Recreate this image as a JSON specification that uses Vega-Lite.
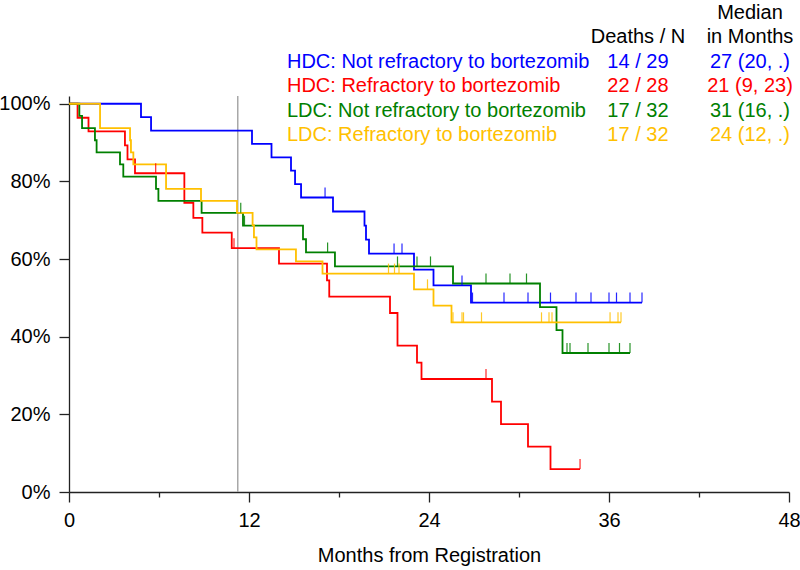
{
  "$schema": "https://vega.github.io/schema/vega-lite/v6.json",
  "width": 720,
  "height": 396,
  "autosize": {"type": "none"},
  "padding": {"left": 69, "top": 96, "right": 11, "bottom": 78},
  "background": "white",
  "config": {
    "view": {"stroke": null},
    "font": "Liberation Sans",
    "text": {"font": "Liberation Sans", "fontSize": 20},
    "axis": {
      "grid": false,
      "domainColor": "#222222",
      "domainWidth": 1.3,
      "tickColor": "#222222",
      "tickWidth": 1.3,
      "labelColor": "#000000",
      "labelFont": "Liberation Sans",
      "labelFontSize": 20,
      "labelFlush": false,
      "titleFont": "Liberation Sans",
      "titleFontSize": 20,
      "titleFontWeight": "normal",
      "titleColor": "#000000"
    }
  },
  "datasets": {
    "surv": [
      {"grp": "HDC: Not refractory to bortezomib", "t": 0, "s": 100},
      {"grp": "HDC: Not refractory to bortezomib", "t": 4.8, "s": 96.55},
      {"grp": "HDC: Not refractory to bortezomib", "t": 5.47, "s": 93.1},
      {"grp": "HDC: Not refractory to bortezomib", "t": 12.2, "s": 89.66},
      {"grp": "HDC: Not refractory to bortezomib", "t": 13.5, "s": 86.2},
      {"grp": "HDC: Not refractory to bortezomib", "t": 14.8, "s": 82.76},
      {"grp": "HDC: Not refractory to bortezomib", "t": 15.07, "s": 79.3},
      {"grp": "HDC: Not refractory to bortezomib", "t": 15.47, "s": 75.86},
      {"grp": "HDC: Not refractory to bortezomib", "t": 17.6, "s": 72.25},
      {"grp": "HDC: Not refractory to bortezomib", "t": 19.7, "s": 68.6},
      {"grp": "HDC: Not refractory to bortezomib", "t": 19.8, "s": 65.0},
      {"grp": "HDC: Not refractory to bortezomib", "t": 20.0, "s": 61.4},
      {"grp": "HDC: Not refractory to bortezomib", "t": 23.0, "s": 57.3},
      {"grp": "HDC: Not refractory to bortezomib", "t": 24.3, "s": 53.2},
      {"grp": "HDC: Not refractory to bortezomib", "t": 26.8, "s": 48.8},
      {"grp": "HDC: Not refractory to bortezomib", "t": 38.2, "s": 48.8},

      {"grp": "HDC: Refractory to bortezomib", "t": 0, "s": 100},
      {"grp": "HDC: Refractory to bortezomib", "t": 0.57, "s": 96.4},
      {"grp": "HDC: Refractory to bortezomib", "t": 1.3, "s": 92.9},
      {"grp": "HDC: Refractory to bortezomib", "t": 3.73, "s": 89.3},
      {"grp": "HDC: Refractory to bortezomib", "t": 3.9, "s": 85.7},
      {"grp": "HDC: Refractory to bortezomib", "t": 4.4, "s": 82.1},
      {"grp": "HDC: Refractory to bortezomib", "t": 7.69, "s": 74.5},
      {"grp": "HDC: Refractory to bortezomib", "t": 8.29, "s": 70.6},
      {"grp": "HDC: Refractory to bortezomib", "t": 8.89, "s": 66.8},
      {"grp": "HDC: Refractory to bortezomib", "t": 10.85, "s": 62.8},
      {"grp": "HDC: Refractory to bortezomib", "t": 14.0, "s": 58.8},
      {"grp": "HDC: Refractory to bortezomib", "t": 17.2, "s": 54.5},
      {"grp": "HDC: Refractory to bortezomib", "t": 17.35, "s": 50.3},
      {"grp": "HDC: Refractory to bortezomib", "t": 21.4, "s": 46.1},
      {"grp": "HDC: Refractory to bortezomib", "t": 21.9, "s": 37.7},
      {"grp": "HDC: Refractory to bortezomib", "t": 23.2, "s": 33.3},
      {"grp": "HDC: Refractory to bortezomib", "t": 23.5, "s": 29.1},
      {"grp": "HDC: Refractory to bortezomib", "t": 28.2, "s": 23.3},
      {"grp": "HDC: Refractory to bortezomib", "t": 28.8, "s": 17.5},
      {"grp": "HDC: Refractory to bortezomib", "t": 30.6, "s": 11.7},
      {"grp": "HDC: Refractory to bortezomib", "t": 32.1, "s": 5.9},
      {"grp": "HDC: Refractory to bortezomib", "t": 34.07, "s": 5.9},

      {"grp": "LDC: Not refractory to bortezomib", "t": 0, "s": 100},
      {"grp": "LDC: Not refractory to bortezomib", "t": 0.69, "s": 96.9},
      {"grp": "LDC: Not refractory to bortezomib", "t": 0.87, "s": 93.75},
      {"grp": "LDC: Not refractory to bortezomib", "t": 1.73, "s": 90.6},
      {"grp": "LDC: Not refractory to bortezomib", "t": 1.84, "s": 87.5},
      {"grp": "LDC: Not refractory to bortezomib", "t": 3.4, "s": 84.4},
      {"grp": "LDC: Not refractory to bortezomib", "t": 3.62, "s": 81.25},
      {"grp": "LDC: Not refractory to bortezomib", "t": 5.8, "s": 78.1},
      {"grp": "LDC: Not refractory to bortezomib", "t": 5.96, "s": 75.0},
      {"grp": "LDC: Not refractory to bortezomib", "t": 8.84, "s": 71.9},
      {"grp": "LDC: Not refractory to bortezomib", "t": 11.6, "s": 68.6},
      {"grp": "LDC: Not refractory to bortezomib", "t": 15.6, "s": 65.1},
      {"grp": "LDC: Not refractory to bortezomib", "t": 15.8, "s": 61.7},
      {"grp": "LDC: Not refractory to bortezomib", "t": 17.73, "s": 58.1},
      {"grp": "LDC: Not refractory to bortezomib", "t": 25.6, "s": 53.7},
      {"grp": "LDC: Not refractory to bortezomib", "t": 31.4, "s": 47.6},
      {"grp": "LDC: Not refractory to bortezomib", "t": 32.5, "s": 41.7},
      {"grp": "LDC: Not refractory to bortezomib", "t": 32.9, "s": 35.8},
      {"grp": "LDC: Not refractory to bortezomib", "t": 37.4, "s": 35.8},

      {"grp": "LDC: Refractory to bortezomib", "t": 0, "s": 100},
      {"grp": "LDC: Refractory to bortezomib", "t": 2.07, "s": 93.75},
      {"grp": "LDC: Refractory to bortezomib", "t": 4.07, "s": 90.6},
      {"grp": "LDC: Refractory to bortezomib", "t": 4.13, "s": 87.5},
      {"grp": "LDC: Refractory to bortezomib", "t": 4.29, "s": 84.4},
      {"grp": "LDC: Refractory to bortezomib", "t": 6.47, "s": 78.1},
      {"grp": "LDC: Refractory to bortezomib", "t": 8.8, "s": 75.0},
      {"grp": "LDC: Refractory to bortezomib", "t": 11.2, "s": 71.9},
      {"grp": "LDC: Refractory to bortezomib", "t": 12.24, "s": 68.75},
      {"grp": "LDC: Refractory to bortezomib", "t": 12.33, "s": 65.6},
      {"grp": "LDC: Refractory to bortezomib", "t": 12.5, "s": 62.5},
      {"grp": "LDC: Refractory to bortezomib", "t": 15.13, "s": 59.4},
      {"grp": "LDC: Refractory to bortezomib", "t": 16.9, "s": 56.25},
      {"grp": "LDC: Refractory to bortezomib", "t": 23.0, "s": 52.2},
      {"grp": "LDC: Refractory to bortezomib", "t": 24.3, "s": 48.0},
      {"grp": "LDC: Refractory to bortezomib", "t": 25.5, "s": 43.7},
      {"grp": "LDC: Refractory to bortezomib", "t": 36.8, "s": 43.7}
    ],
    "cens": [
      {"grp": "HDC: Not refractory to bortezomib", "t": 17.07, "s": 75.86},
      {"grp": "HDC: Not refractory to bortezomib", "t": 21.67, "s": 61.4},
      {"grp": "HDC: Not refractory to bortezomib", "t": 22.2, "s": 61.4},
      {"grp": "HDC: Not refractory to bortezomib", "t": 26.2, "s": 53.2},
      {"grp": "HDC: Not refractory to bortezomib", "t": 26.9, "s": 48.8},
      {"grp": "HDC: Not refractory to bortezomib", "t": 29.0, "s": 48.8},
      {"grp": "HDC: Not refractory to bortezomib", "t": 30.6, "s": 48.8},
      {"grp": "HDC: Not refractory to bortezomib", "t": 32.1, "s": 48.8},
      {"grp": "HDC: Not refractory to bortezomib", "t": 33.8, "s": 48.8},
      {"grp": "HDC: Not refractory to bortezomib", "t": 34.8, "s": 48.8},
      {"grp": "HDC: Not refractory to bortezomib", "t": 36.0, "s": 48.8},
      {"grp": "HDC: Not refractory to bortezomib", "t": 36.5, "s": 48.8},
      {"grp": "HDC: Not refractory to bortezomib", "t": 37.4, "s": 48.8},
      {"grp": "HDC: Not refractory to bortezomib", "t": 38.2, "s": 48.8},

      {"grp": "HDC: Refractory to bortezomib", "t": 5.78, "s": 82.1},
      {"grp": "HDC: Refractory to bortezomib", "t": 11.0, "s": 62.8},
      {"grp": "HDC: Refractory to bortezomib", "t": 27.8, "s": 29.1},
      {"grp": "HDC: Refractory to bortezomib", "t": 34.07, "s": 5.9},

      {"grp": "LDC: Not refractory to bortezomib", "t": 11.45, "s": 71.9},
      {"grp": "LDC: Not refractory to bortezomib", "t": 11.7, "s": 68.6},
      {"grp": "LDC: Not refractory to bortezomib", "t": 17.24, "s": 61.7},
      {"grp": "LDC: Not refractory to bortezomib", "t": 21.9, "s": 58.1},
      {"grp": "LDC: Not refractory to bortezomib", "t": 23.2, "s": 58.1},
      {"grp": "LDC: Not refractory to bortezomib", "t": 24.1, "s": 58.1},
      {"grp": "LDC: Not refractory to bortezomib", "t": 27.8, "s": 53.7},
      {"grp": "LDC: Not refractory to bortezomib", "t": 29.4, "s": 53.7},
      {"grp": "LDC: Not refractory to bortezomib", "t": 30.5, "s": 53.7},
      {"grp": "LDC: Not refractory to bortezomib", "t": 33.2, "s": 35.8},
      {"grp": "LDC: Not refractory to bortezomib", "t": 33.4, "s": 35.8},
      {"grp": "LDC: Not refractory to bortezomib", "t": 34.6, "s": 35.8},
      {"grp": "LDC: Not refractory to bortezomib", "t": 36.0, "s": 35.8},
      {"grp": "LDC: Not refractory to bortezomib", "t": 36.7, "s": 35.8},
      {"grp": "LDC: Not refractory to bortezomib", "t": 37.4, "s": 35.8},

      {"grp": "LDC: Refractory to bortezomib", "t": 21.3, "s": 56.25},
      {"grp": "LDC: Refractory to bortezomib", "t": 21.7, "s": 56.25},
      {"grp": "LDC: Refractory to bortezomib", "t": 22.0, "s": 56.25},
      {"grp": "LDC: Refractory to bortezomib", "t": 23.9, "s": 52.2},
      {"grp": "LDC: Refractory to bortezomib", "t": 25.6, "s": 43.7},
      {"grp": "LDC: Refractory to bortezomib", "t": 26.2, "s": 43.7},
      {"grp": "LDC: Refractory to bortezomib", "t": 26.3, "s": 43.7},
      {"grp": "LDC: Refractory to bortezomib", "t": 27.5, "s": 43.7},
      {"grp": "LDC: Refractory to bortezomib", "t": 31.5, "s": 43.7},
      {"grp": "LDC: Refractory to bortezomib", "t": 32.0, "s": 43.7},
      {"grp": "LDC: Refractory to bortezomib", "t": 32.2, "s": 43.7},
      {"grp": "LDC: Refractory to bortezomib", "t": 36.07, "s": 43.7},
      {"grp": "LDC: Refractory to bortezomib", "t": 36.6, "s": 43.7},
      {"grp": "LDC: Refractory to bortezomib", "t": 36.8, "s": 43.7}
    ],
    "ref": [{"t": 11.25}],
    "table": [
      {"row": "h1", "col": "median", "label": "Median", "grp": "Header"},
      {"row": "h2", "col": "deaths", "label": "Deaths / N", "grp": "Header"},
      {"row": "h2", "col": "median", "label": "in Months", "grp": "Header"},
      {"row": "r1", "col": "name", "label": "HDC: Not refractory to bortezomib", "grp": "HDC: Not refractory to bortezomib"},
      {"row": "r1", "col": "deaths", "label": "14 / 29", "grp": "HDC: Not refractory to bortezomib"},
      {"row": "r1", "col": "median", "label": "27 (20, .)", "grp": "HDC: Not refractory to bortezomib"},
      {"row": "r2", "col": "name", "label": "HDC: Refractory to bortezomib", "grp": "HDC: Refractory to bortezomib"},
      {"row": "r2", "col": "deaths", "label": "22 / 28", "grp": "HDC: Refractory to bortezomib"},
      {"row": "r2", "col": "median", "label": "21 (9, 23)", "grp": "HDC: Refractory to bortezomib"},
      {"row": "r3", "col": "name", "label": "LDC: Not refractory to bortezomib", "grp": "LDC: Not refractory to bortezomib"},
      {"row": "r3", "col": "deaths", "label": "17 / 32", "grp": "LDC: Not refractory to bortezomib"},
      {"row": "r3", "col": "median", "label": "31 (16, .)", "grp": "LDC: Not refractory to bortezomib"},
      {"row": "r4", "col": "name", "label": "LDC: Refractory to bortezomib", "grp": "LDC: Refractory to bortezomib"},
      {"row": "r4", "col": "deaths", "label": "17 / 32", "grp": "LDC: Refractory to bortezomib"},
      {"row": "r4", "col": "median", "label": "24 (12, .)", "grp": "LDC: Refractory to bortezomib"}
    ]
  },
  "layer": [
    {
      "layer": [
        {
          "data": {"name": "ref"},
          "mark": {"type": "rule", "color": "#a8a8a8", "strokeWidth": 1.5},
          "encoding": {
            "x": {"field": "t", "type": "quantitative", "scale": {"domain": [0, 48], "nice": false}}
          }
        },
        {
          "data": {"name": "surv"},
          "mark": {"type": "line", "interpolate": "step-after", "strokeWidth": 1.8},
          "encoding": {
            "x": {
              "field": "t", "type": "quantitative",
              "scale": {"domain": [0, 48], "nice": false},
              "axis": {
                "values": [0, 6, 12, 18, 24, 30, 36, 42, 48],
                "labelExpr": "datum.value % 12 === 0 ? datum.label : ''",
                "tickSize": {"condition": {"test": "datum.value % 12 === 0", "value": 10}, "value": 5},
                "labelPadding": 8,
                "title": "Months from Registration",
                "titlePadding": 15
              }
            },
            "y": {
              "field": "s", "type": "quantitative",
              "scale": {"domain": [0, 102], "nice": false},
              "axis": {
                "values": [0, 10, 20, 30, 40, 50, 60, 70, 80, 90, 100],
                "labelExpr": "datum.value % 20 === 0 ? datum.value + '%' : ''",
                "tickSize": {"condition": {"test": "datum.value % 20 === 0", "value": 10}, "value": 4},
                "labelPadding": 9,
                "title": null
              }
            },
            "color": {
              "field": "grp", "type": "nominal",
              "scale": {
                "domain": ["HDC: Not refractory to bortezomib", "HDC: Refractory to bortezomib", "LDC: Not refractory to bortezomib", "LDC: Refractory to bortezomib", "Header"],
                "range": ["#0000ff", "#ff0000", "#008000", "#ffc000", "#000000"]
              },
              "legend": null
            }
          }
        },
        {
          "data": {"name": "cens"},
          "mark": {"type": "tick", "orient": "vertical", "size": 10, "thickness": 1.2, "yOffset": -5, "opacity": 0.85},
          "encoding": {
            "x": {"field": "t", "type": "quantitative"},
            "y": {"field": "s", "type": "quantitative"},
            "color": {"field": "grp", "type": "nominal", "legend": null}
          }
        }
      ]
    },
    {
      "data": {"name": "table"},
      "encoding": {
        "y": {
          "field": "row", "type": "nominal",
          "scale": {"type": "point", "domain": ["h1", "h2", "r1", "r2", "r3", "r4"], "range": [-83, 39], "padding": 0},
          "axis": null
        },
        "color": {"field": "grp", "type": "nominal", "legend": null}
      },
      "layer": [
        {
          "transform": [{"filter": "datum.col === 'name'"}],
          "mark": {"type": "text", "align": "left", "baseline": "middle", "fontSize": 20},
          "encoding": {
            "x": {"datum": 14.53, "type": "quantitative", "scale": {"domain": [0, 48], "nice": false}, "axis": null},
            "text": {"field": "label"}
          }
        },
        {
          "transform": [{"filter": "datum.col === 'deaths'"}],
          "mark": {"type": "text", "align": "center", "baseline": "middle", "fontSize": 20},
          "encoding": {
            "x": {"datum": 37.93, "type": "quantitative", "axis": null},
            "text": {"field": "label"}
          }
        },
        {
          "transform": [{"filter": "datum.col === 'median'"}],
          "mark": {"type": "text", "align": "center", "baseline": "middle", "fontSize": 20},
          "encoding": {
            "x": {"datum": 45.4, "type": "quantitative", "axis": null},
            "text": {"field": "label"}
          }
        }
      ]
    }
  ],
  "resolve": {"scale": {"x": "independent", "y": "independent"}}
}
